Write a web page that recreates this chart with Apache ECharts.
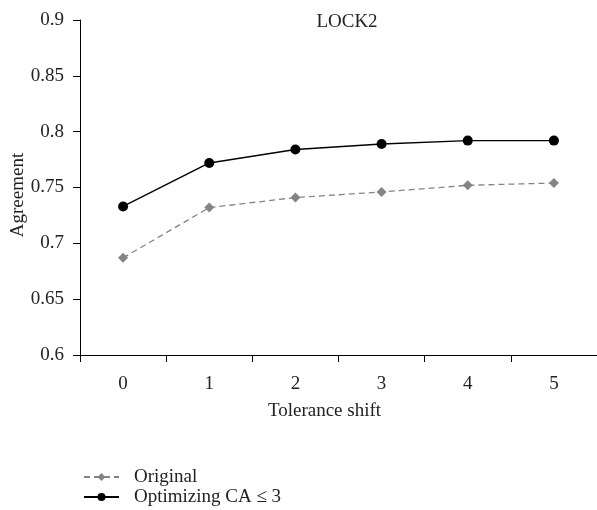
<!DOCTYPE html>
<html><head><meta charset="utf-8">
<script src="https://cdn.jsdelivr.net/npm/echarts@6/dist/echarts.min.js"></script>
<style>html,body{margin:0;padding:0;background:#fff}#c{width:597px;height:510px}</style>
</head><body><div id="c"></div>
<script>
const categories = ['0','1','2','3','4','5'];
const originalValues = [0.687, 0.732, 0.741, 0.746, 0.752, 0.754];
const optimizingValues = [0.733, 0.772, 0.784, 0.789, 0.792, 0.792];
const seriesNames = ['Original', 'Optimizing CA \u2264 3'];
const FONT = '"Liberation Serif", "DejaVu Serif", serif';
const FS = 19;
const chart = echarts.init(document.getElementById('c'));
chart.setOption({
  animation: false,
  backgroundColor: '#fff',
  title: { text: 'LOCK2', left: 342, top: 8, textAlign: 'center',
    textStyle: { fontFamily: FONT, fontSize: FS, fontWeight: 'normal', color: '#222' } },
  grid: { left: 80, right: 0, top: 20, bottom: 155, outerBoundsMode: 'none', containLabel: false },
  legend: { orient: 'vertical', left: 83, top: 467, padding: 0, itemWidth: 35, itemHeight: 10, itemGap: 0,
    textStyle: { fontFamily: FONT, fontSize: FS, color: '#222', lineHeight: 20, padding: [0, 0, 0, 10] },
    data: seriesNames },
  xAxis: { type: 'category', data: categories, boundaryGap: true,
    name: 'Tolerance shift', nameLocation: 'middle', nameGap: 47, nameMoveOverlap: false,
    nameTextStyle: { fontFamily: FONT, fontSize: FS, color: '#222', padding: [0, 28, 0, 0] },
    axisLine: { lineStyle: { color: '#000', width: 1 } },
    axisTick: { show: true, length: 7, lineStyle: { color: '#000' } },
    axisLabel: { fontFamily: FONT, fontSize: FS, color: '#222', margin: 20 } },
  yAxis: { type: 'value', min: 0.6, max: 0.9, interval: 0.05,
    name: 'Agreement', nameLocation: 'middle', nameGap: 52, nameRotate: 90, nameMoveOverlap: false,
    nameTextStyle: { fontFamily: FONT, fontSize: FS, color: '#222', padding: [0, 15, 0, 0] },
    axisLine: { show: true, lineStyle: { color: '#000', width: 1 } },
    axisTick: { show: true, length: 7, lineStyle: { color: '#000' } },
    splitLine: { show: false },
    axisLabel: { fontFamily: FONT, fontSize: FS, color: '#222', margin: 16,
      formatter: v => String(Math.round(v * 100) / 100) } },
  series: [
    { name: seriesNames[0], type: 'line', data: originalValues, symbol: 'diamond', symbolSize: 10,
      itemStyle: { color: '#848484' }, lineStyle: { color: '#848484', width: 1.3, type: [6, 4] } },
    { name: seriesNames[1], type: 'line', data: optimizingValues, symbol: 'circle', symbolSize: 10,
      itemStyle: { color: '#000' }, lineStyle: { color: '#000', width: 1.4 } }
  ]
});
</script></body></html>
